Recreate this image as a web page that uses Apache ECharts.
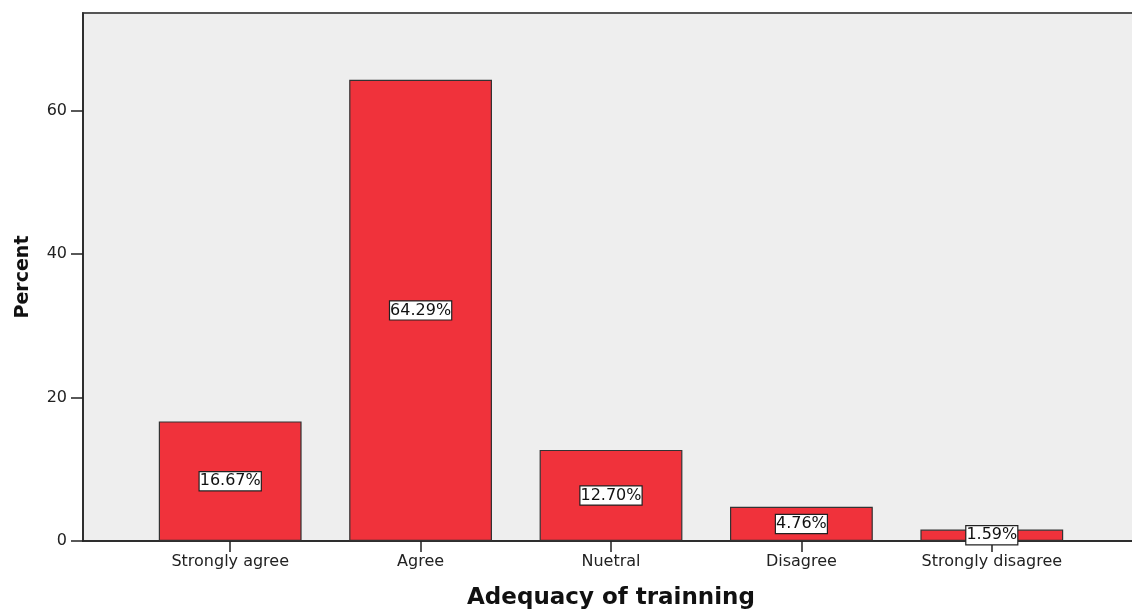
<!DOCTYPE html>
<html><head><meta charset="utf-8">
<script src="https://cdn.jsdelivr.net/npm/echarts@6/dist/echarts.min.js"></script>
<style>html,body{margin:0;padding:0;background:#fff}#c{width:1132px;height:612px}</style>
</head><body><div id="c"></div>
<script>
const categories = ['Strongly agree', 'Agree', 'Nuetral', 'Disagree', 'Strongly disagree'];
const percentValues = [16.67, 64.29, 12.70, 4.76, 1.59];
const yTicks = [0, 20, 40, 60];
const yMax = 73.6;

const FONT = 'DejaVu Sans';
const chart = echarts.init(document.getElementById('c'), null, {renderer: 'canvas'});
chart.setOption({
  animation: false,
  textStyle: {fontFamily: FONT},
  grid: [
    {left: 83, right: -10, top: 13, bottom: 71, outerBoundsMode: 'none', containLabel: false, show: true, backgroundColor: '#eeeeee', borderColor: '#555', borderWidth: 2},
    {left: 135, right: 45, top: 13, bottom: 71, outerBoundsMode: 'none', containLabel: false}
  ],
  xAxis: [
    {gridIndex: 0, type: 'value', min: 0, max: 1, axisLine: {show: true, lineStyle: {color: '#222', width: 1.5}}, axisTick: {show: false}, axisLabel: {show: false}, splitLine: {show: false}},
    {gridIndex: 1, type: 'category', data: categories, axisLine: {show: false},
     axisTick: {show: true, alignWithLabel: true, length: 11, lineStyle: {color: '#222', width: 1.5}},
     axisLabel: {fontSize: 16, color: '#222', margin: 13, fontFamily: FONT, interval: 0},
     name: 'Adequacy of trainning', nameLocation: 'middle', nameGap: 46,
     nameTextStyle: {fontSize: 23, fontWeight: 'bold', color: '#111', fontFamily: FONT}},
  ],
  yAxis: [
    {gridIndex: 0, type: 'value', min: 0, max: yMax,
     axisLine: {show: true, lineStyle: {color: '#222', width: 1.5}},
     axisTick: {show: true, length: 12, lineStyle: {color: '#222', width: 1.5}, customValues: yTicks},
     axisLabel: {fontSize: 16, color: '#222', margin: 16, customValues: yTicks, fontFamily: FONT},
     splitLine: {show: false},
     name: 'Percent', nameLocation: 'middle', nameGap: 50,
     nameTextStyle: {fontSize: 19, fontWeight: 'bold', color: '#111', fontFamily: FONT}},
    {gridIndex: 1, type: 'value', min: 0, max: yMax, show: false, splitLine: {show: false}}
  ],
  series: [{
    type: 'bar', xAxisIndex: 1, yAxisIndex: 1, data: percentValues, barWidth: '75%',
    itemStyle: {color: '#f0323b', borderColor: '#333', borderWidth: 1.2},
    label: {show: true, position: 'inside', formatter: p => p.value.toFixed(2) + '%',
      color: '#111', fontSize: 16, fontFamily: FONT, backgroundColor: '#fff', borderColor: '#222', borderWidth: 1.2,
      padding: [1, 0, 0, 0], lineHeight: 17}
  }]
});
</script></body></html>
